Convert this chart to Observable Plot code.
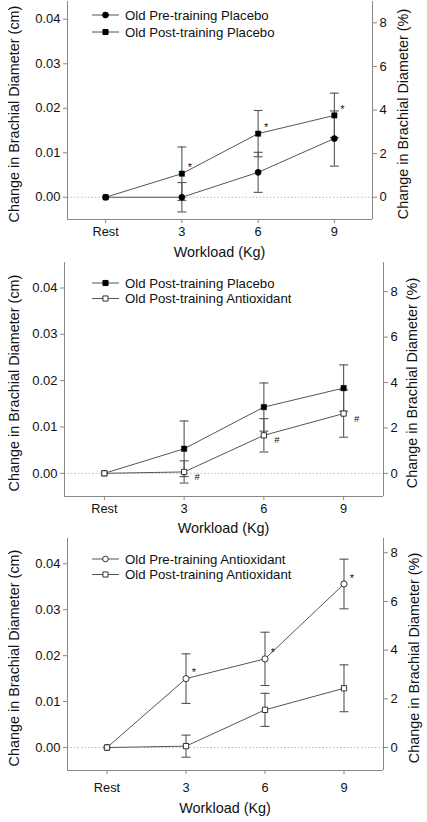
<!DOCTYPE html>
<html><head><meta charset="utf-8">
<script src="https://cdn.jsdelivr.net/npm/d3@7"></script>
<script src="https://cdn.jsdelivr.net/npm/@observablehq/plot@0.6"></script>
<style>
body{margin:0;background:#fff;width:427px;height:822px;overflow:hidden;}
#chart svg{display:block;}
</style></head><body><div id="chart"></div>
<script>
// ---------- data ----------
const workloads = ["Rest", "3", "6", "9"];
const leftTicks = [0, 0.01, 0.02, 0.03, 0.04];
const rightTicks = [0, 2, 4, 6, 8];

const oldPrePlacebo      = [0, 0.0000, 0.0056, 0.0132];
const oldPrePlaceboErr   = [0, 0.0033, 0.0045, 0.0062];
const oldPostPlacebo     = [0, 0.0053, 0.0143, 0.0184];
const oldPostPlaceboErr  = [0, 0.0060, 0.0052, 0.0050];
const oldPreAntiox       = [0, 0.0150, 0.0193, 0.0356];
const oldPreAntioxErr    = [0, 0.0054, 0.0058, 0.0054];
const oldPostAntiox      = [0, 0.0003, 0.0082, 0.0129];
const oldPostAntioxErr   = [0, 0.0024, 0.0036, 0.0051];

const series = {
  prePla:  {name: "Old Pre-training Placebo",     values: oldPrePlacebo,  errs: oldPrePlaceboErr,  symbol: "circle", filled: true},
  postPla: {name: "Old Post-training Placebo",    values: oldPostPlacebo, errs: oldPostPlaceboErr, symbol: "square", filled: true},
  preAnt:  {name: "Old Pre-training Antioxidant", values: oldPreAntiox,   errs: oldPreAntioxErr,   symbol: "circle", filled: false},
  postAnt: {name: "Old Post-training Antioxidant",values: oldPostAntiox,  errs: oldPostAntioxErr,  symbol: "square", filled: false}
};

const panelSeries = [["prePla", "postPla"], ["postPla", "postAnt"], ["preAnt", "postAnt"]];
const panelNotes  = [{key: "postPla", sym: "*"}, {key: "postAnt", sym: "#"}, {key: "preAnt", sym: "*"}];
const noteIdx = [1, 2, 3];
const cmPerPct = [0.0049, 0.0049, 0.0053];
const yTitleLeft = "Change in Brachial Diameter (cm)";
const yTitleRight = "Change in Brachial Diameter (%)";
const xTitle = "Workload (Kg)";

// ---------- layout ----------
const layouts = [
  {height: 258, top: 1, bottom: 39, left: 67, right: 55, yMax: 0.0440, tickPad: 3, xTitle: 33, legTop: 14, legGap: 17, rTitle: 31},
  {height: 274, top: 4, bottom: 36, left: 64, right: 44, yMax: 0.0455, tickPad: 3, xTitle: 32, legTop: 21, legGap: 15.5, rTitle: 29},
  {height: 290, top: 6, bottom: 52, left: 67, right: 44, yMax: 0.0455, tickPad: 8, xTitle: 38, legTop: 21, legGap: 15.5, rTitle: 31}
];
const yMin = -0.005;
const FONT = "'Liberation Sans', Arial, Helvetica, sans-serif";

const cap = {draw(ctx) { ctx.moveTo(-4.5, 0); ctx.lineTo(4.5, 0); }};

function rowsFor(keys) {
  const rows = [];
  for (const k of keys) {
    const s = series[k];
    s.values.forEach((v, i) => rows.push({series: k, x: i, y: v, e: s.errs[i], filled: s.filled, symbol: s.symbol}));
  }
  return rows;
}

const chart = document.getElementById("chart");

layouts.forEach((L, p) => {
  const keys = panelSeries[p];
  const rows = rowsFor(keys);
  const errRows = rows.filter(d => d.e > 0);
  const note = panelNotes[p];
  const noteRows = rows.filter(d => d.series === note.key && noteIdx.includes(d.x));
  const filledRows = rows.filter(d => d.filled);
  const openRows = rows.filter(d => !d.filled);
  const k = cmPerPct[p];

  const svg = Plot.plot({
    width: 427,
    height: L.height,
    marginTop: L.top,
    marginBottom: L.bottom,
    marginLeft: L.left,
    marginRight: L.right,
    x: {domain: [-0.5, 3.5], axis: null},
    y: {domain: [yMin, L.yMax], axis: null},
    style: {fontFamily: FONT, fontSize: "13px", color: "#111", background: "#fff", overflow: "visible"},
    marks: [
      Plot.ruleY([0], {stroke: "#bbb", strokeDasharray: "1.5,2"}),
      Plot.ruleX([-0.5, 3.5], {stroke: "#888"}),
      Plot.ruleY([yMin], {stroke: "#888"}),
      Plot.ruleX(errRows, {x: "x", y1: d => d.y - d.e, y2: d => d.y + d.e, stroke: "#555", strokeWidth: 1.1}),
      Plot.dot(errRows, {x: "x", y: d => d.y + d.e, symbol: cap, stroke: "#555", fill: "none", strokeWidth: 1.1}),
      Plot.dot(errRows, {x: "x", y: d => d.y - d.e, symbol: cap, stroke: "#555", fill: "none", strokeWidth: 1.1}),
      Plot.line(rows, {x: "x", y: "y", z: "series", stroke: "#555", strokeWidth: 1}),
      Plot.dot(filledRows, {x: "x", y: "y", symbol: "symbol", r: d => d.symbol === "square" ? 3.7 : 3.9, fill: "#000", stroke: "#000", strokeWidth: 0.5}),
      Plot.dot(openRows, {x: "x", y: "y", symbol: "symbol", r: d => d.symbol === "square" ? 3.5 : 3.7, fill: "#fff", stroke: "#333", strokeWidth: 1}),
      Plot.text(noteRows, {x: "x", y: "y", text: () => note.sym,
        dx: note.sym === "*" ? 8 : 13, dy: note.sym === "*" ? -6 : 5,
        fontSize: note.sym === "*" ? 11 : 9.5, fill: "#111"}),
      Plot.axisY({anchor: "left", ticks: leftTicks, tickFormat: d3.format(".2f"), tickSize: 4, tickPadding: 3,
        label: null, stroke: "#888", fill: "#111", fontSize: 13}),
      Plot.axisY({anchor: "right", ticks: rightTicks.map(v => v * k), tickFormat: d => String(Math.round(d / k)),
        tickSize: 4, tickPadding: 3, label: null, stroke: "#888", fill: "#111", fontSize: 13}),
      Plot.axisX({ticks: [0, 1, 2, 3], tickFormat: i => workloads[i], tickSize: 4, tickPadding: L.tickPad,
        label: null, stroke: "#888", fill: "#111", fontSize: 12.8})
    ]
  });

  const W = 427;
  const fx0 = L.left, fx1 = W - L.right, fy0 = L.top, fy1 = L.height - L.bottom;
  const cy = (fy0 + fy1) / 2 + 4;
  const g = d3.select(svg).append("g").attr("font-family", FONT).attr("fill", "#111");

  // axis titles
  g.append("text").attr("text-anchor", "middle").attr("dy", "0.35em").attr("font-size", 14.4)
    .attr("transform", `translate(14,${cy}) rotate(-90)`).text(yTitleLeft);
  g.append("text").attr("text-anchor", "middle").attr("dy", "0.35em").attr("font-size", 14.4)
    .attr("transform", `translate(${fx1 + L.rTitle},${cy}) rotate(-90)`).text(yTitleRight);
  g.append("text").attr("text-anchor", "middle").attr("dy", "0.35em").attr("font-size", 14.4)
    .attr("x", (fx0 + fx1) / 2).attr("y", fy1 + L.xTitle).text(xTitle);

  // legend inside the plot, top-left
  keys.forEach((key, i) => {
    const s = series[key];
    const y = fy0 + L.legTop + i * L.legGap;
    g.append("line").attr("x1", 92).attr("x2", 119).attr("y1", y).attr("y2", y).attr("stroke", "#555");
    g.append("path")
      .attr("d", d3.symbol(s.symbol === "square" ? d3.symbolSquare : d3.symbolCircle, 26)())
      .attr("transform", `translate(105.5,${y})`)
      .attr("fill", s.filled ? "#000" : "#fff")
      .attr("stroke", s.filled ? "#000" : "#333");
    g.append("text").attr("text-anchor", "start").attr("x", 125).attr("y", y).attr("dy", "0.35em")
      .attr("font-size", 13.2).text(s.name);
  });

  chart.appendChild(svg);
});
</script>
</body></html>
